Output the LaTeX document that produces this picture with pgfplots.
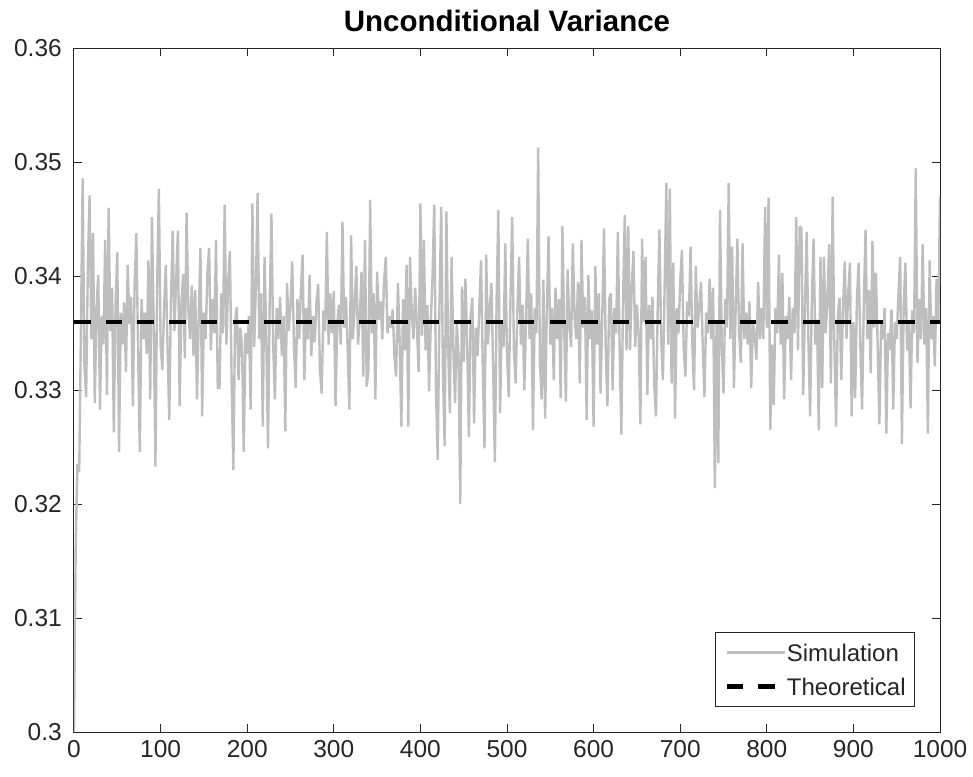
\documentclass[border=0pt]{standalone}
\usepackage{fontspec}
\setmainfont{Liberation Sans}
\usepackage{pgfplots}
\pgfplotsset{compat=1.18}
\usepackage{pgfplotstable}
\definecolor{axgray}{RGB}{38,38,38}
\definecolor{simgray}{RGB}{190,190,190}

\pgfplotstableread{
x y
0 0.3000
2 0.3165
4 0.3235
6 0.3228
8 0.3352
10 0.3486
12 0.3324
14 0.3294
16 0.3410
18 0.3471
20 0.3345
22 0.3438
24 0.3289
26 0.3372
28 0.3401
30 0.3283
32 0.3365
34 0.3340
36 0.3432
38 0.3296
40 0.3460
42 0.3352
44 0.3390
46 0.3263
48 0.3375
50 0.3421
52 0.3246
54 0.3368
56 0.3340
58 0.3377
60 0.3316
62 0.3410
64 0.3358
66 0.3382
68 0.3286
70 0.3392
72 0.3438
74 0.3335
76 0.3246
78 0.3380
80 0.3345
82 0.3368
84 0.3332
86 0.3414
88 0.3292
90 0.3452
92 0.3360
94 0.3233
96 0.3392
98 0.3477
100 0.3340
102 0.3318
104 0.3372
106 0.3410
108 0.3338
110 0.3274
112 0.3380
114 0.3440
116 0.3352
118 0.3398
120 0.3440
122 0.3286
124 0.3375
126 0.3402
128 0.3328
130 0.3456
132 0.3372
134 0.3345
136 0.3392
138 0.3330
140 0.3388
142 0.3292
144 0.3362
146 0.3425
148 0.3277
150 0.3368
152 0.3345
154 0.3402
156 0.3425
158 0.3335
160 0.3380
162 0.3350
164 0.3432
166 0.3302
168 0.3302
170 0.3385
172 0.3350
174 0.3463
176 0.3340
178 0.3395
180 0.3422
182 0.3310
184 0.3230
186 0.3360
188 0.3373
190 0.3309
192 0.3355
194 0.3340
196 0.3246
198 0.3350
200 0.3332
202 0.3365
204 0.3283
206 0.3464
208 0.3338
210 0.3390
212 0.3473
214 0.3345
216 0.3385
218 0.3268
220 0.3417
222 0.3350
224 0.3249
226 0.3378
228 0.3455
230 0.3340
232 0.3292
234 0.3372
236 0.3345
238 0.3382
240 0.3330
242 0.3365
244 0.3264
246 0.3394
248 0.3352
250 0.3375
252 0.3413
254 0.3338
256 0.3302
258 0.3380
260 0.3345
262 0.3388
264 0.3419
266 0.3309
268 0.3372
270 0.3345
272 0.3401
274 0.3330
276 0.3365
278 0.3342
280 0.3378
282 0.3393
284 0.3318
286 0.3297
288 0.3370
290 0.3352
292 0.3439
294 0.3340
296 0.3385
298 0.3350
300 0.3387
302 0.3286
304 0.3360
306 0.3375
308 0.3340
310 0.3448
312 0.3355
314 0.3382
316 0.3335
318 0.3283
320 0.3436
322 0.3345
324 0.3372
326 0.3409
328 0.3340
330 0.3365
332 0.3404
334 0.3312
336 0.3432
338 0.3303
340 0.3318
342 0.3467
344 0.3350
346 0.3385
348 0.3292
350 0.3404
352 0.3362
354 0.3378
356 0.3345
358 0.3395
360 0.3417
362 0.3350
364 0.3365
366 0.3355
368 0.3371
370 0.3330
372 0.3312
374 0.3394
376 0.3345
378 0.3268
380 0.3380
382 0.3335
384 0.3410
386 0.3268
388 0.3417
390 0.3370
392 0.3345
394 0.3390
396 0.3355
398 0.3316
400 0.3464
402 0.3348
404 0.3432
406 0.3335
408 0.3375
410 0.3299
412 0.3360
414 0.3400
416 0.3463
418 0.3300
420 0.3239
422 0.3372
424 0.3461
426 0.3318
428 0.3251
430 0.3457
432 0.3340
434 0.3280
436 0.3417
438 0.3338
440 0.3289
442 0.3360
444 0.3330
446 0.3200
448 0.3391
450 0.3325
452 0.3398
454 0.3340
456 0.3259
458 0.3365
460 0.3381
462 0.3271
464 0.3355
466 0.3330
468 0.3372
470 0.3414
472 0.3320
474 0.3249
476 0.3419
478 0.3340
480 0.3372
482 0.3394
484 0.3318
486 0.3237
488 0.3380
490 0.3458
492 0.3280
494 0.3360
496 0.3338
498 0.3429
500 0.3330
502 0.3294
504 0.3380
506 0.3452
508 0.3335
510 0.3306
512 0.3370
514 0.3417
516 0.3340
518 0.3375
520 0.3300
522 0.3362
524 0.3433
526 0.3345
528 0.3385
530 0.3265
532 0.3372
534 0.3350
536 0.3513
538 0.3325
540 0.3292
542 0.3397
544 0.3275
546 0.3370
548 0.3435
550 0.3340
552 0.3372
554 0.3309
556 0.3390
558 0.3345
560 0.3380
562 0.3293
564 0.3444
566 0.3355
568 0.3290
570 0.3406
572 0.3358
574 0.3338
576 0.3429
578 0.3365
580 0.3345
582 0.3395
584 0.3306
586 0.3432
588 0.3355
590 0.3382
592 0.3274
594 0.3401
596 0.3345
598 0.3370
600 0.3268
602 0.3409
604 0.3340
606 0.3385
608 0.3297
610 0.3365
612 0.3442
614 0.3335
616 0.3286
618 0.3380
620 0.3385
622 0.3300
624 0.3372
626 0.3350
628 0.3439
630 0.3340
632 0.3261
634 0.3378
636 0.3454
638 0.3335
640 0.3444
642 0.3335
644 0.3390
646 0.3422
648 0.3338
650 0.3375
652 0.3350
654 0.3270
656 0.3433
658 0.3360
660 0.3417
662 0.3296
664 0.3375
666 0.3345
668 0.3382
670 0.3306
672 0.3277
674 0.3370
676 0.3441
678 0.3345
680 0.3309
682 0.3390
684 0.3482
686 0.3340
688 0.3477
690 0.3306
692 0.3412
694 0.3275
696 0.3372
698 0.3350
700 0.3395
702 0.3423
704 0.3338
706 0.3312
708 0.3378
710 0.3365
712 0.3426
714 0.3340
716 0.3300
718 0.3409
720 0.3355
722 0.3372
724 0.3395
726 0.3340
728 0.3294
730 0.3368
732 0.3350
734 0.3398
736 0.3345
738 0.3390
740 0.3214
742 0.3360
744 0.3236
746 0.3458
748 0.3340
750 0.3297
752 0.3380
754 0.3355
756 0.3482
758 0.3345
760 0.3426
762 0.3302
764 0.3370
766 0.3433
768 0.3352
770 0.3324
772 0.3429
774 0.3345
776 0.3368
778 0.3340
780 0.3378
782 0.3302
784 0.3360
786 0.3348
788 0.3327
790 0.3395
792 0.3345
794 0.3372
796 0.3345
798 0.3461
800 0.3355
802 0.3469
804 0.3265
806 0.3340
808 0.3287
810 0.3372
812 0.3350
814 0.3419
816 0.3340
818 0.3403
820 0.3292
822 0.3365
824 0.3345
826 0.3382
828 0.3309
830 0.3372
832 0.3350
834 0.3452
836 0.3335
838 0.3444
840 0.3442
842 0.3296
844 0.3372
846 0.3439
848 0.3345
850 0.3277
852 0.3380
854 0.3433
856 0.3340
858 0.3362
860 0.3265
862 0.3417
864 0.3302
866 0.3417
868 0.3350
870 0.3380
872 0.3428
874 0.3306
876 0.3470
878 0.3340
880 0.3268
882 0.3365
884 0.3381
886 0.3309
888 0.3372
890 0.3413
892 0.3345
894 0.3385
896 0.3412
898 0.3277
900 0.3360
902 0.3293
904 0.3378
906 0.3412
908 0.3340
910 0.3283
912 0.3375
914 0.3441
916 0.3345
918 0.3388
920 0.3315
922 0.3431
924 0.3355
926 0.3403
928 0.3340
930 0.3270
932 0.3360
934 0.3345
936 0.3372
938 0.3262
940 0.3350
942 0.3335
944 0.3371
946 0.3283
948 0.3360
950 0.3345
952 0.3385
954 0.3417
956 0.3253
958 0.3372
960 0.3412
962 0.3335
964 0.3360
966 0.3284
968 0.3370
970 0.3350
972 0.3495
974 0.3324
976 0.3380
978 0.3345
980 0.3428
982 0.3340
984 0.3372
986 0.3262
988 0.3414
990 0.3345
992 0.3365
994 0.3321
996 0.3398
998 0.3360
1000 0.3470
}\simdata

\pgfplotstableread{
x y
0 0.336
1000 0.336
}\theodata

\begin{document}
\begin{tikzpicture}
\path[use as bounding box] (-74pt,-44pt) rectangle (899pt,732pt);
\begin{axis}[
  at={(0,0)}, anchor=south west,
  scale only axis, width=866pt, height=683.5pt,
  xmin=0, xmax=1000, ymin=0.3, ymax=0.36,
  axis line style={axgray, line width=1pt},
  every tick/.style={axgray, line width=1pt},
  tick align=inside, tick pos=both, major tick length=8pt,
  xtick={0,100,200,300,400,500,600,700,800,900,1000},
  xticklabels={0,100,200,300,400,500,600,700,800,900,1000},
  ytick={0.3,0.31,0.32,0.33,0.34,0.35,0.36},
  yticklabels={0.3,0.31,0.32,0.33,0.34,0.35,0.36},
  /pgf/number format/assume math mode=true,
  xticklabel style={font=\fontsize{24.5}{28}\selectfont, text=axgray, anchor=north, inner sep=0pt, yshift=-8pt},
  yticklabel style={font=\fontsize{24.5}{28}\selectfont, text=axgray, anchor=east, inner sep=0pt, xshift=-12pt},
  title={Unconditional Variance},
  title style={font=\bfseries\fontsize{29.5}{33}\selectfont, anchor=base, at={(0.5,1)}, yshift=10.5pt, inner sep=0pt, text=black},
  legend cell align=left,
  legend image code/.code={\draw[#1] (0pt,0pt) -- (58pt,0pt);},
  legend style={at={(1,0)}, anchor=south east, xshift=-25pt, yshift=25pt,
    draw=axgray, line width=0.8pt, fill=white,
    font=\fontsize{24}{28}\selectfont, text=axgray,
    inner xsep=9pt, inner ysep=11.5pt, row sep=17pt,
    nodes={inner sep=0pt, text height=17pt, text depth=0pt},
    /tikz/every even column/.append style={column sep=7pt}},
]
\addplot[simgray, line width=2.4pt, line join=miter, miter limit=2] table[x=x, y=y] {\simdata};
\addlegendentry{Simulation}
\addplot[black, line width=4.5pt, dash pattern=on 16.5pt off 15.2pt] table[x=x, y=y] {\theodata};
\addlegendentry{Theoretical}
\end{axis}
\end{tikzpicture}
\end{document}
